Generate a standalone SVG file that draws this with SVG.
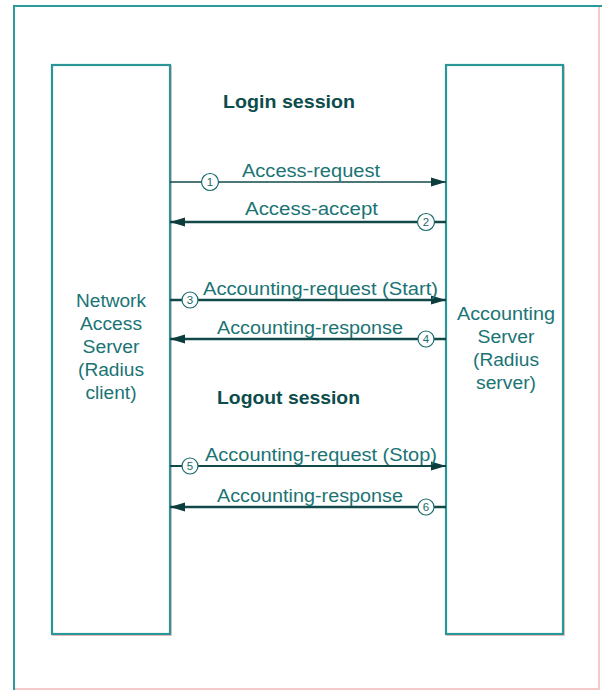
<svg xmlns="http://www.w3.org/2000/svg" width="602" height="692" viewBox="0 0 602 692">
<defs>
<style>
.frame{fill:none;stroke:#2a9a9a;stroke-width:2}
.frame2{fill:none;stroke:#f4b8b8;stroke-width:1.5}
.box{fill:#fff;stroke:#2a9696;stroke-width:2.2}
.shadow{fill:none;stroke:#f8a8a8;stroke-width:1.5}
.lbl{font-family:"Liberation Sans",Arial,sans-serif;font-size:17.5px;fill:#1a7474}
.node{font-family:"Liberation Sans",Arial,sans-serif;font-size:17.5px;fill:#1a7474;text-anchor:middle}
.head{font-family:"Liberation Sans",Arial,sans-serif;font-size:19px;font-weight:bold;fill:#0c4c4c}
.arr{stroke:#124848;fill:none}
.num{fill:#fff;stroke:#1a6a6a;stroke-width:1.2}
.numt{font-family:"Liberation Sans",Arial,sans-serif;font-size:11.5px;fill:#1a6a6a;text-anchor:middle}
</style>
<marker id="ah" markerWidth="16" markerHeight="10" refX="15" refY="5" orient="auto" markerUnits="userSpaceOnUse">
<path d="M0,0.5 L15,5 L0,9.5 Z" fill="#0c3c3c"/>
</marker>
</defs>
<rect width="602" height="692" fill="#fff"/>
<path class="frame2" d="M599,6 V689 H14"/>
<path class="frame" d="M14,690 V6 H602"/>

<g id="nas">
<rect class="shadow" x="53" y="66" width="118" height="569"/>
<rect class="box" x="52" y="65" width="118" height="569"/>
<text class="node" x="111" y="307" textLength="70" lengthAdjust="spacingAndGlyphs">Network</text>
<text class="node" x="111" y="330" textLength="62" lengthAdjust="spacingAndGlyphs">Access</text>
<text class="node" x="111" y="353" textLength="57" lengthAdjust="spacingAndGlyphs">Server</text>
<text class="node" x="111" y="376" textLength="66" lengthAdjust="spacingAndGlyphs">(Radius</text>
<text class="node" x="111" y="399" textLength="51" lengthAdjust="spacingAndGlyphs">client)</text>
</g>

<g id="server">
<rect class="shadow" x="447" y="66" width="117" height="569"/>
<rect class="box" x="446" y="65" width="117" height="569"/>
<text class="node" x="506" y="320" textLength="98" lengthAdjust="spacingAndGlyphs">Accounting</text>
<text class="node" x="506" y="343" textLength="57" lengthAdjust="spacingAndGlyphs">Server</text>
<text class="node" x="506" y="366" textLength="66" lengthAdjust="spacingAndGlyphs">(Radius</text>
<text class="node" x="506" y="389" textLength="60" lengthAdjust="spacingAndGlyphs">server)</text>
</g>

<g id="headings">
<text class="head" x="223" y="108" textLength="132" lengthAdjust="spacingAndGlyphs">Login session</text>
<text class="head" x="217" y="404" textLength="143" lengthAdjust="spacingAndGlyphs">Logout session</text>
</g>

<g id="connectors">
<line class="arr" x1="170" y1="182" x2="446" y2="182" stroke-width="1.3" marker-end="url(#ah)"/>
<line class="arr" x1="446" y1="222" x2="170" y2="222" stroke-width="2.6" marker-end="url(#ah)"/>
<line class="arr" x1="170" y1="300" x2="446" y2="300" stroke-width="2.6" marker-end="url(#ah)"/>
<line class="arr" x1="446" y1="339" x2="170" y2="339" stroke-width="2.6" marker-end="url(#ah)"/>
<line class="arr" x1="170" y1="466" x2="446" y2="466" stroke-width="2.2" marker-end="url(#ah)"/>
<line class="arr" x1="446" y1="507" x2="170" y2="507" stroke-width="2.6" marker-end="url(#ah)"/>

<text class="lbl" x="242" y="177" textLength="138" lengthAdjust="spacingAndGlyphs">Access-request</text>
<text class="lbl" x="245" y="215" textLength="133" lengthAdjust="spacingAndGlyphs">Access-accept</text>
<text class="lbl" x="203" y="295" textLength="235" lengthAdjust="spacingAndGlyphs">Accounting-request (Start)</text>
<text class="lbl" x="217" y="334" textLength="186" lengthAdjust="spacingAndGlyphs">Accounting-response</text>
<text class="lbl" x="205" y="461" textLength="232" lengthAdjust="spacingAndGlyphs">Accounting-request (Stop)</text>
<text class="lbl" x="217" y="502" textLength="186" lengthAdjust="spacingAndGlyphs">Accounting-response</text>

<circle class="num" cx="210" cy="182" r="8.5"/><text class="numt" x="210" y="186">1</text>
<circle class="num" cx="426" cy="222" r="8.5"/><text class="numt" x="426" y="226">2</text>
<circle class="num" cx="190" cy="300" r="8"/><text class="numt" x="190" y="304">3</text>
<circle class="num" cx="426" cy="339" r="8"/><text class="numt" x="426" y="343">4</text>
<circle class="num" cx="190" cy="466" r="8"/><text class="numt" x="190" y="470">5</text>
<circle class="num" cx="426" cy="507" r="8"/><text class="numt" x="426" y="511">6</text>
</g>
</svg>
